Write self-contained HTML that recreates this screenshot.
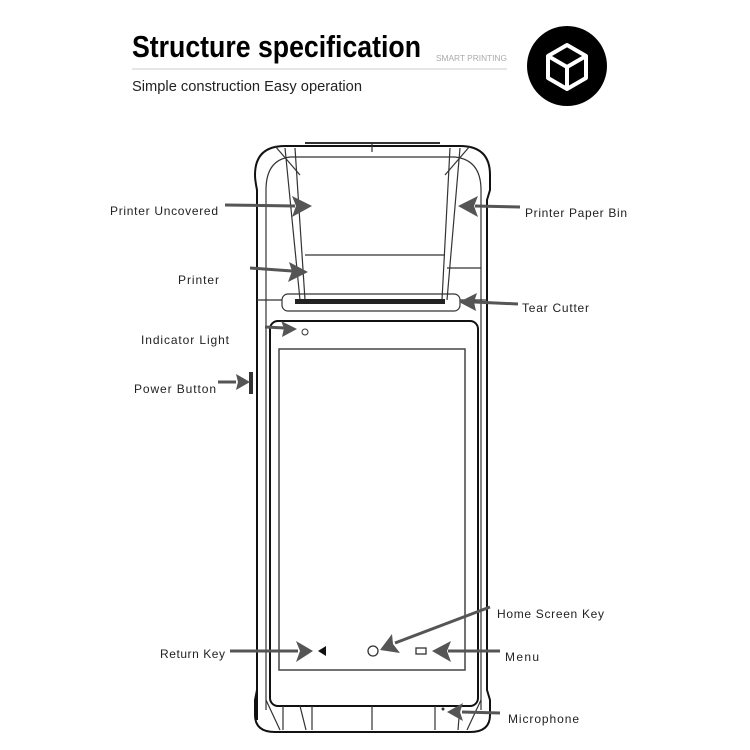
<!DOCTYPE html>
<html><head><meta charset="utf-8"><style>
html,body{margin:0;padding:0;background:#fff;}
svg{display:block;}
text{font-family:"Liberation Sans",sans-serif;}
</style></head><body>
<svg width="750" height="750" viewBox="0 0 750 750" xmlns="http://www.w3.org/2000/svg">
<!-- header -->
<text x="132" y="57" font-family="Liberation Sans Narrow, Liberation Sans, sans-serif" font-weight="bold" font-size="31" textLength="289" lengthAdjust="spacingAndGlyphs" fill="#000">Structure specification</text>
<line x1="132" y1="69" x2="507" y2="69" stroke="#ddd" stroke-width="1.5"/>
<text x="436" y="61" font-size="8.5" fill="#aaa" textLength="71" lengthAdjust="spacingAndGlyphs">SMART PRINTING</text>
<text x="132" y="91" font-size="15" fill="#222" textLength="230" lengthAdjust="spacingAndGlyphs">Simple construction Easy operation</text>
<circle cx="567" cy="66" r="40" fill="#000"/>
<g fill="none" stroke="#fff" stroke-width="4" stroke-linejoin="round">
<path d="M567,45 L586,56 L586,78 L567,89 L548,78 L548,56 Z"/>
<path d="M548,56 L567,67 L586,56 M567,67 L567,89"/>
</g>

<!-- device -->
<g fill="none" stroke="#111" stroke-width="2">
<path d="M257,720 L257,190 Q255,180 255,175 Q255,146 285,146 L460,146 Q490,146 490,175 L490,190 L487,200 L487,690 L490,700 L490,715 Q490,732 470,732 L275,732 Q255,732 255,715 L255,700 L257,690 Z"/>
<rect x="270" y="321" width="208" height="385" rx="8"/>
</g>
<g fill="none" stroke="#333" stroke-width="1.2">
<path d="M266,710 L266,190 Q266,160 290,157 L455,157 Q481,160 481,190 L481,710"/>
<line x1="275" y1="146" x2="300" y2="175"/><line x1="470" y1="146" x2="445" y2="175"/>
<line x1="285" y1="148" x2="300" y2="300"/><line x1="295" y1="148" x2="305" y2="300"/>
<line x1="460" y1="148" x2="447" y2="300"/><line x1="450" y1="148" x2="442" y2="300"/>
<line x1="305" y1="255" x2="445" y2="255"/>
<line x1="372" y1="144" x2="372" y2="152"/>
<line x1="305" y1="143" x2="440" y2="143" stroke-width="2"/>
<line x1="447" y1="268" x2="481" y2="268"/><line x1="257" y1="300" x2="282" y2="300"/><line x1="460" y1="300" x2="487" y2="300"/>
<rect x="282" y="294" width="178" height="17" rx="6"/>
<line x1="266" y1="700" x2="280" y2="730"/><line x1="481" y1="700" x2="467" y2="730"/>
<line x1="283" y1="706" x2="283" y2="730"/><line x1="300" y1="706" x2="306" y2="730"/>
<line x1="312" y1="706" x2="312" y2="730"/><line x1="372" y1="706" x2="372" y2="730"/>
<line x1="435" y1="706" x2="435" y2="730"/><line x1="460" y1="706" x2="458" y2="730"/>
</g>
<rect x="295" y="299" width="150" height="5" fill="#222"/>
<rect x="279" y="349" width="186" height="321" fill="none" stroke="#444" stroke-width="1.5"/>
<rect x="249" y="372" width="4" height="22" fill="#333"/>
<circle cx="305" cy="332" r="3" fill="none" stroke="#333" stroke-width="1"/>
<path d="M318,651 L326,646 L326,656 Z" fill="#111"/>
<circle cx="373" cy="651" r="5" fill="none" stroke="#333" stroke-width="1.3"/>
<rect x="416" y="648" width="10" height="6" fill="none" stroke="#333" stroke-width="1.3"/>
<circle cx="443" cy="709" r="1.5" fill="#333"/>

<!-- arrows -->
<g stroke="#555" stroke-width="3" fill="none">
<line x1="225" y1="205" x2="295" y2="206"/>
<line x1="520" y1="207" x2="475" y2="206"/>
<line x1="250" y1="268" x2="292" y2="271"/>
<line x1="518" y1="304" x2="474" y2="302"/>
<line x1="265" y1="327" x2="285" y2="328"/>
<line x1="218" y1="382" x2="236" y2="382"/>
<line x1="490" y1="607" x2="395" y2="643"/>
<line x1="230" y1="651" x2="298" y2="651"/>
<line x1="500" y1="651" x2="448" y2="651"/>
<line x1="500" y1="713" x2="462" y2="712"/>
</g>
<g fill="#555">
<path d="M312,206 L292,196 L296,206 L292,217 Z"/>
<path d="M458,206 L478,196 L474,206 L478,217 Z"/>
<path d="M308,272 L289,262 L292,271 L288,282 Z"/>
<path d="M459,302 L477,293 L474,302 L476,311 Z"/>
<path d="M297,329 L281,321 L284,328 L282,337 Z"/>
<path d="M250,382 L236,374 L238,382 L236,390 Z"/>
<path d="M380,650 L392,634 L393,644 L400,653 Z"/>
<path d="M313,651 L296,641 L300,651 L296,662 Z"/>
<path d="M432,651 L451,641 L447,651 L451,662 Z"/>
<path d="M447,712 L463,703 L460,712 L463,721 Z"/>
</g>

<!-- labels -->
<g font-size="12" fill="#222" lengthAdjust="spacingAndGlyphs">
<text x="110" y="215" textLength="108">Printer Uncovered</text>
<text x="525" y="217" textLength="102">Printer Paper Bin</text>
<text x="178" y="284" textLength="41">Printer</text>
<text x="522" y="312" textLength="67">Tear Cutter</text>
<text x="141" y="344" textLength="88">Indicator Light</text>
<text x="134" y="393" textLength="82">Power Button</text>
<text x="497" y="618" textLength="107">Home Screen Key</text>
<text x="160" y="658" textLength="65">Return Key</text>
<text x="505" y="661" textLength="34">Menu</text>
<text x="508" y="723" textLength="71">Microphone</text>
</g>
</svg>
</body></html>
